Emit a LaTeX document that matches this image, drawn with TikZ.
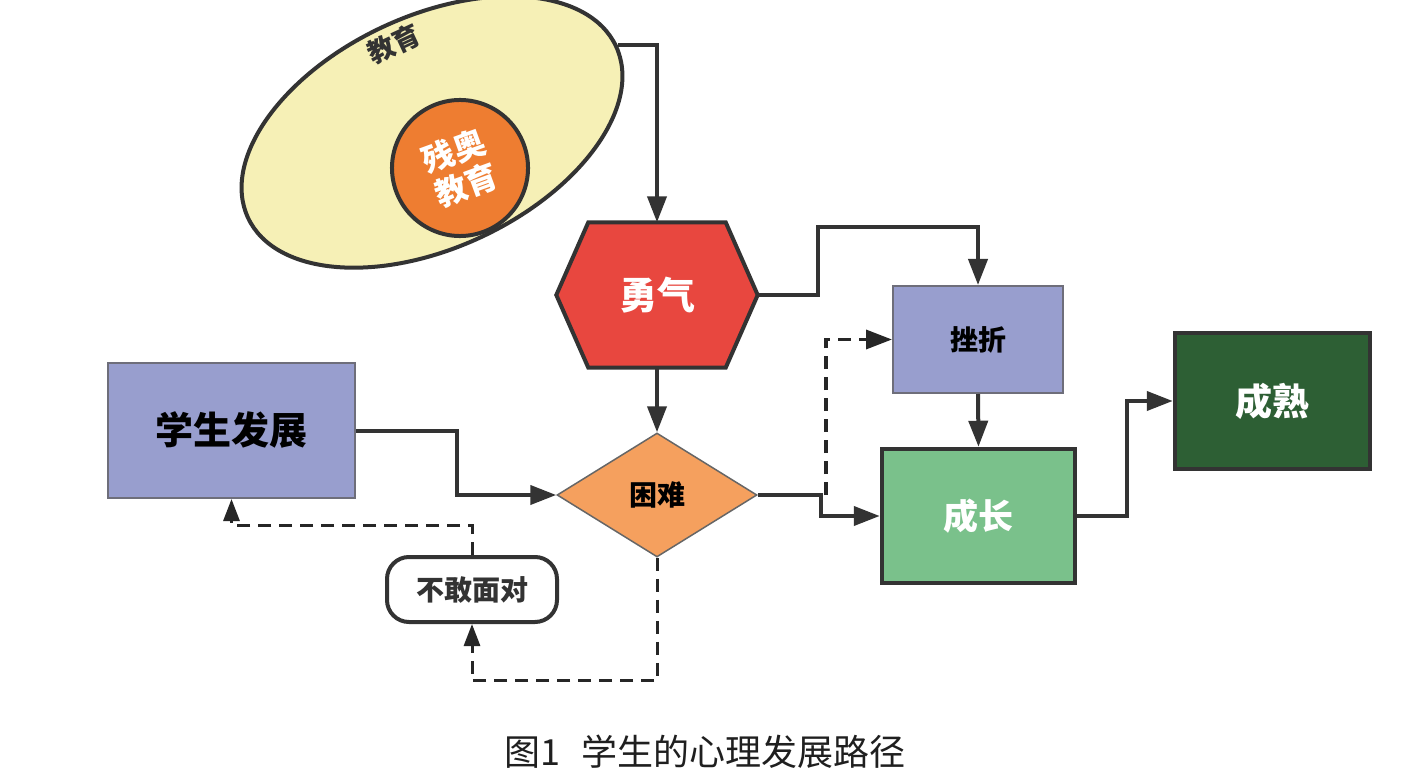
\documentclass[tikz,border=0pt]{standalone}
\usepackage{fontspec}
\setmainfont{Noto Sans CJK SC}
\usetikzlibrary{arrows.meta,shapes.geometric,backgrounds}
\definecolor{ellfill}{HTML}{F6F0B6}
\definecolor{circfill}{HTML}{EE7D31}
\definecolor{hexfill}{HTML}{E8473F}
\definecolor{diafill}{HTML}{F5A05E}
\definecolor{purp}{HTML}{989ECE}
\definecolor{greenA}{HTML}{7AC18B}
\definecolor{greenB}{HTML}{2D5F34}
\definecolor{linec}{HTML}{333333}
\definecolor{thinb}{HTML}{6E6E7A}
\begin{document}
\begin{tikzpicture}[x=1pt,y=-1pt,
  conn/.style={draw=linec, line width=4pt, -{Triangle[length=26pt,width=19pt]}},
  dconn/.style={draw=black!85, line width=3pt, dash pattern=on 13pt off 8pt, -{Triangle[length=22pt,width=16pt]}},
  thickbox/.style={rectangle, draw=linec, line width=4.5pt, inner sep=0},
  thinbox/.style={rectangle, draw=thinb, line width=2pt, inner sep=0, fill=purp}
]
\useasboundingbox (0,0) rectangle (1407,775);
\begin{scope}[on background layer]
  \fill[white] (0,0) rectangle (1407,775);
\end{scope}

% ellipse and circle
\node[ellipse, draw=linec, line width=4pt, fill=ellfill, rotate=25,
      minimum width=406pt, minimum height=232pt, inner sep=0] (ell) at (432,132) {};
\node[rotate=25, text=linec, inner sep=1pt, font=\bfseries\fontsize{27pt}{28pt}\selectfont] (jy) at (394,44) {教育};
\node[circle, draw=linec, line width=4pt, fill=circfill, minimum size=136pt, inner sep=0,
      rotate=20, text=white, align=center,
      font=\bfseries\fontsize{32pt}{36pt}\selectfont] (cao) at (460,168) {残奥\\教育};

% hexagon
\node[minimum width=201pt, minimum height=145pt, inner sep=0, text=white,
      font=\bfseries\fontsize{38pt}{40pt}\selectfont] (yq) at (657,295) {勇气};
\begin{scope}[on background layer]
  \filldraw[fill=hexfill, draw=linec, line width=4pt, line join=miter]
    (yq.west) -- ([xshift=32pt]yq.north west) -- ([xshift=-32pt]yq.north east) --
    (yq.east) -- ([xshift=-32pt]yq.south east) -- ([xshift=32pt]yq.south west) -- cycle;
\end{scope}

% diamond
\node[diamond, aspect=1.6, minimum width=200pt, minimum height=124pt, inner sep=0,
      fill=diafill, draw=gray!80!black, line width=1.5pt,
      font=\bfseries\fontsize{28pt}{30pt}\selectfont] (kn) at (657,495) {困难};

% boxes
\node[thinbox, minimum width=247pt, minimum height=135pt,
      font=\bfseries\fontsize{38pt}{40pt}\selectfont] (xs) at (231.5,430.5) {学生发展};
\node[rectangle, rounded corners=22pt, minimum width=170pt, minimum height=65pt,
      draw=linec, line width=4pt, fill=white, text=linec,
      font=\bfseries\fontsize{28pt}{30pt}\selectfont] (bd) at (472,589.5) {不敢面对};
\node[thinbox, minimum width=170pt, minimum height=107pt,
      font=\bfseries\fontsize{28pt}{30pt}\selectfont] (cz) at (978,339.5) {挫折};
\node[thickbox, minimum width=193pt, minimum height=134pt, fill=greenA, text=white,
      font=\bfseries\fontsize{35pt}{37pt}\selectfont] (cj) at (978.5,516) {成长};
\node[thickbox, minimum width=195pt, minimum height=136pt, fill=greenB, text=white,
      font=\bfseries\fontsize{37pt}{39pt}\selectfont] (cs) at (1272.5,401) {成熟};

% caption
\node[text=black!88, font=\fontsize{36pt}{38pt}\selectfont] (cap) at (705,752)
  {图1\hspace{0.6em}学生的心理发展路径};

% connectors
\draw[conn] (ell.east) -| (yq.north);
\draw[conn] (yq.south) -- (kn.north);
\draw[conn] (yq.east) -- ++(60,0) |- ([yshift=58pt]cz.north) -- (cz.north);
\draw[conn] (xs.east) -- ++(101,0) |- (kn.west);
\draw[conn] (kn.east) -- ++(63,0) |- (cj.west);
\draw[dconn, line width=3.5pt, -{Triangle[length=26pt,width=19pt]}] ([xshift=68pt]kn.east) |- (cz.west);
\draw[conn] (cz.south) -- (cj.north);
\draw[conn] (cj.east) -- ++(50,0) |- (cs.west);
\draw[dconn] (kn.south) -- ++(0,123) -| (bd.south);
\draw[dconn] (bd.north) -- ++(0,-30) -| (xs.south);
\end{tikzpicture}
\end{document}
